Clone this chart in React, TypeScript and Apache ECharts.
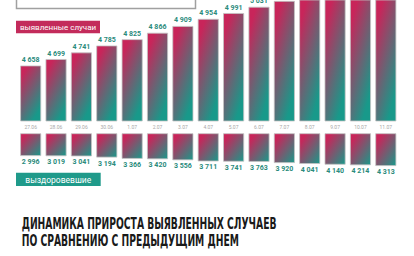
import React, { useEffect, useRef } from "react";
import * as echarts from "echarts";

const dates = ["27.06", "28.06", "29.06", "30.06", "1.07", "2.07", "3.07", "4.07", "5.07", "6.07", "7.07", "8.07", "9.07", "10.07", "11.07"];
const detected = [4658, 4699, 4741, 4785, 4825, 4866, 4909, 4954, 4991, 5031, 5068, 5105, 5142, 5180, 5218];
const recovered = [2996, 3019, 3041, 3194, 3366, 3420, 3556, 3711, 3741, 3763, 3920, 4041, 4140, 4214, 4313];
const legendDetected = "выявленные случаи";
const legendRecovered = "выздоровевшие";
const titleLines = ["ДИНАМИКА ПРИРОСТА ВЫЯВЛЕННЫХ СЛУЧАЕВ", "ПО СРАВНЕНИЮ С ПРЕДЫДУЩИМ ДНЕМ"];

const CRIMSON = "#c8255a";
const TEAL = "#18998a";
const LABEL_TEAL = "#2a8b7c";
const TITLE_FONT = '"DejaVu Sans Condensed", "Liberation Sans Narrow", "Roboto", sans-serif';
const TOP_MIN = 4306;
const TOP_MAX = 5074;

const fmt = (v: number) => String(v).replace(/\B(?=(\d{3})+(?!\d))/g, " ");

const grad = (x2: number, y2: number) =>
  new echarts.graphic.LinearGradient(0, 0, x2, y2, [
    { offset: 0, color: CRIMSON },
    { offset: 0.15, color: CRIMSON },
    { offset: 1, color: TEAL },
  ]);

function measure(text: string, font: string) {
  const c = document.createElement("canvas").getContext("2d");
  if (!c) return 1;
  c.font = font;
  return c.measureText(text).width || 1;
}

export default function App() {
  const ref = useRef<HTMLDivElement>(null);
  useEffect(() => {
    if (!ref.current) return;
    const chart = echarts.init(ref.current, undefined, { renderer: "svg" });
    const titleWidth = 255;
    const w1 = measure(titleLines[0], `bold 16px ${TITLE_FONT}`);
    const sx = titleWidth / w1;
    const titleStyle = {
      fill: "#1a1a1a",
      fontSize: 16,
      fontWeight: "bold",
      fontFamily: TITLE_FONT,
      align: "left",
      verticalAlign: "middle",
    };
    chart.setOption({
      animation: false,
      backgroundColor: "#ffffff",
      grid: [
        { left: 18, right: 15.5, top: 0, height: 121, containLabel: false },
        { left: 18, right: 15.5, top: 133.3, height: 37.9, containLabel: false },
      ],
      xAxis: [
        {
          type: "category",
          gridIndex: 0,
          data: dates,
          axisLine: { show: false },
          axisTick: { show: false },
          axisLabel: { color: "#a8a8a8", fontSize: 5, margin: 3, fontFamily: "Roboto", interval: 0 },
        },
        {
          type: "category",
          gridIndex: 1,
          data: dates,
          show: false,
        },
      ],
      yAxis: [
        { type: "value", gridIndex: 0, min: TOP_MIN, max: TOP_MAX, show: false, splitLine: { show: false } },
        { type: "value", gridIndex: 1, min: 0, max: 5000, inverse: true, show: false, splitLine: { show: false } },
      ],
      series: [
        {
          type: "bar",
          xAxisIndex: 0,
          yAxisIndex: 0,
          data: detected.map((v) => ({ value: v, label: { show: v < TOP_MAX - 30 } })),
          barWidth: 21,
          clip: true,
          itemStyle: { color: grad(0.6, 1), borderColor: "#c4c4c4", borderWidth: 0.8 },
          label: {
            show: true,
            position: "top",
            distance: 2,
            color: LABEL_TEAL,
            fontSize: 7,
            fontWeight: "bold",
            fontFamily: "Roboto",
            formatter: (p: any) => fmt(p.value),
          },
        },
        {
          type: "bar",
          xAxisIndex: 1,
          yAxisIndex: 1,
          data: recovered,
          barWidth: 21,
          itemStyle: { color: grad(1, 1), borderColor: "#c4c4c4", borderWidth: 0.8 },
          label: {
            show: true,
            position: "bottom",
            distance: 2.5,
            color: LABEL_TEAL,
            fontSize: 7,
            fontWeight: "bold",
            fontFamily: "Roboto",
            formatter: (p: any) => fmt(p.value),
          },
        },
      ],
      graphic: {
        elements: [
          {
            type: "rect",
            z: 10,
            shape: { x: 16, y: 20.7, width: 84, height: 12.6 },
            style: { fill: "#c32b5b" },
          },
          {
            type: "text",
            z: 11,
            x: 58,
            y: 27.2,
            style: {
              text: legendDetected,
              fill: "#ffffff",
              fontSize: 8,
              fontFamily: "Roboto",
              align: "center",
              verticalAlign: "middle",
            },
          },
          {
            type: "rect",
            z: 10,
            shape: { x: 16, y: 172.7, width: 84.7, height: 13.3 },
            style: { fill: "#1f9a8a" },
          },
          {
            type: "text",
            z: 11,
            x: 58.3,
            y: 179.5,
            style: {
              text: legendRecovered,
              fill: "#ffffff",
              fontSize: 8.5,
              fontFamily: "Roboto",
              align: "center",
              verticalAlign: "middle",
            },
          },
          {
            type: "text",
            x: 21.7,
            y: 223.5,
            scaleX: sx,
            style: { ...titleStyle, text: titleLines[0] },
          },
          {
            type: "text",
            x: 21.7,
            y: 240.2,
            scaleX: sx,
            style: { ...titleStyle, text: titleLines[1] },
          },
          {
            type: "rect",
            z: 12,
            x: 16.5,
            y: 0,
            shape: { x: 0, y: -2, width: 179, height: 10.5 },
            style: { fill: "transparent", stroke: "#a0a0a0", lineWidth: 1.5 },
          },
        ],
      },
    });
    return () => chart.dispose();
  }, []);
  return (
    <div
      ref={ref}
      style={{ position: "absolute", left: 0, top: 0, width: 414, height: 256 }}
    />
  );
}
